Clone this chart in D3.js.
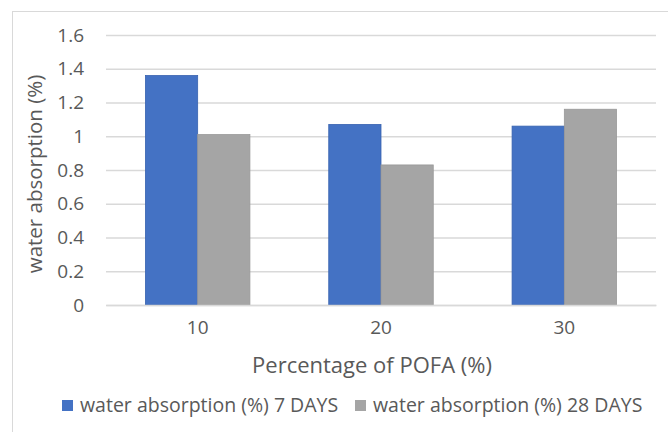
<!DOCTYPE html>
<html>
<head>
<meta charset="utf-8">
<script src="https://cdn.jsdelivr.net/npm/d3@7"></script>
<style>
  body { margin: 0; background: #fff; }
  text { font-family: "Open Sans", sans-serif; fill: #595959; }
</style>
</head>
<body>
<script>
// chart data
var categories = ["10", "20", "30"];
var seriesNames = ["water absorption (%) 7 DAYS", "water absorption (%) 28 DAYS"];
var days7 = [1.36, 1.07, 1.06];
var days28 = [1.01, 0.83, 1.16];
var yTicks = [0, 0.2, 0.4, 0.6, 0.8, 1, 1.2, 1.4, 1.6];
var colors = ["#4472C4", "#A5A5A5"];

var svgWidth = 668, svgHeight = 432;
var margin = {top: 35, right: 12, bottom: 127, left: 106};
var width = svgWidth - margin.left - margin.right;
var height = svgHeight - margin.top - margin.bottom;

var svg = d3.select("body").append("svg")
  .attr("width", svgWidth)
  .attr("height", svgHeight);

// chart frame (cut off at right / bottom like the source)
svg.append("rect")
  .attr("x", 12.5).attr("y", 11.5)
  .attr("width", 700).attr("height", 500)
  .attr("fill", "none")
  .attr("stroke", "#d9d9d9")
  .attr("stroke-width", 1);

var chartGroup = svg.append("g")
  .attr("transform", "translate(" + margin.left + "," + margin.top + ")");

var x0 = d3.scaleBand()
  .domain(categories)
  .range([0, width])
  .paddingInner(0.43)
  .paddingOuter(0.215);

var x1 = d3.scaleBand()
  .domain([0, 1])
  .range([0, x0.bandwidth()]);

var y = d3.scaleLinear()
  .domain([0, 1.6])
  .range([height, 0]);

// gridlines + y labels via axis
var yAxis = chartGroup.append("g")
  .call(d3.axisLeft(y).tickValues(yTicks).tickSize(-width).tickPadding(22)
    .tickFormat(d => d3.format("~g")(d)));
yAxis.select(".domain").remove();
yAxis.selectAll("line").attr("stroke", "#d9d9d9").attr("stroke-width", 1.5);
yAxis.selectAll("text").attr("font-size", "19px").style("font-family", "Open Sans");

var rows = categories.map((c, i) => ({cat: c, vals: [days7[i], days28[i]]}));

var groups = chartGroup.selectAll(".grp")
  .data(rows)
  .enter()
  .append("g")
  .attr("transform", d => "translate(" + x0(d.cat) + ",0)");

groups.selectAll("rect")
  .data(d => d.vals.map((v, k) => ({k: k, v: v})))
  .enter()
  .append("rect")
  .attr("x", d => x1(d.k))
  .attr("y", d => y(d.v))
  .attr("width", x1.bandwidth())
  .attr("height", d => height - y(d.v))
  .attr("fill", d => colors[d.k])
  .attr("stroke", d => d.k == 0 ? "#3863b0" : "#999999")
  .attr("stroke-width", 0.8);

// x axis labels
var xAxis = chartGroup.append("g")
  .attr("transform", "translate(0," + height + ")")
  .call(d3.axisBottom(x0).tickSize(0).tickPadding(16));
xAxis.select(".domain").attr("stroke", "#d9d9d9").attr("stroke-width", 1.5);
xAxis.selectAll("text").attr("font-size", "19px").style("font-family", "Open Sans");

// axis titles
svg.append("text")
  .attr("x", 372)
  .attr("y", 373)
  .style("text-anchor", "middle")
  .attr("font-size", "22px")
  .text("Percentage of POFA (%)");

svg.append("text")
  .attr("transform", "rotate(-90)")
  .attr("x", -174)
  .attr("y", 42)
  .style("text-anchor", "middle")
  .attr("font-size", "20.5px")
  .text("water absorption (%)");

// legend
var legendX = [62, 355];
var legend = svg.selectAll(".legend")
  .data(seriesNames)
  .enter()
  .append("g")
  .attr("transform", (d, i) => "translate(" + legendX[i] + ",400)");

legend.append("rect")
  .attr("width", 11).attr("height", 11)
  .attr("fill", (d, i) => colors[i]);

legend.append("text")
  .attr("x", 18)
  .attr("y", 12)
  .attr("font-size", "19.5px")
  .text(d => d);
</script>
</body>
</html>
